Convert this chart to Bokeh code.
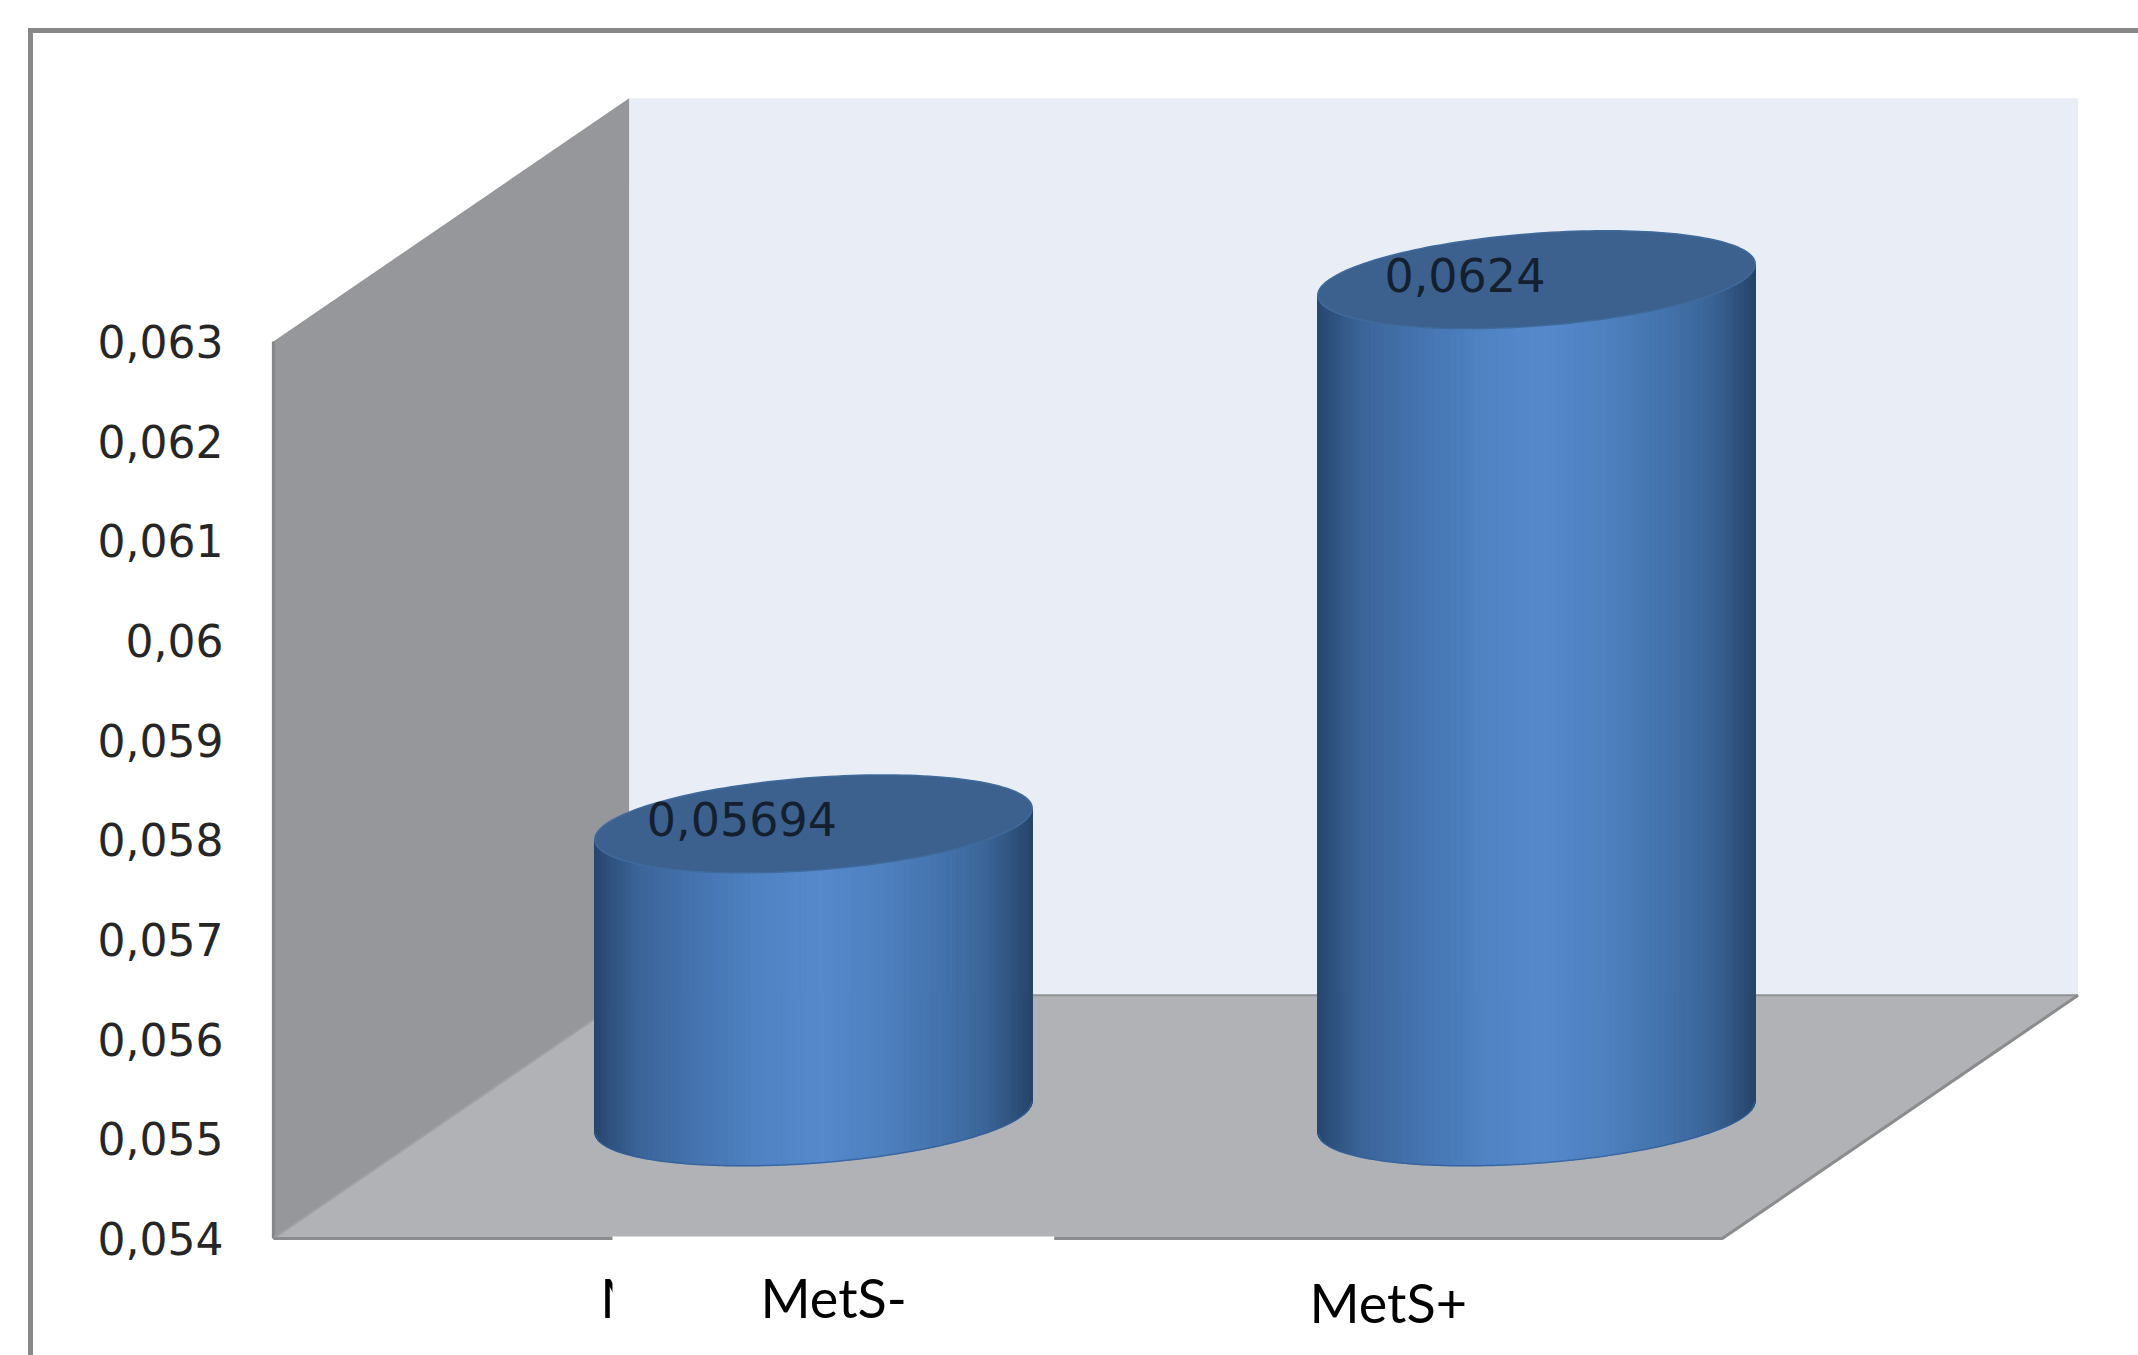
from bokeh.embed import file_html
from bokeh.resources import INLINE
from bokeh.plotting import figure
from bokeh.models import Range1d, FixedTicker, ColumnDataSource
from bokeh.core.properties import value as V
import numpy as np

# ---- data ----
categories = ["MetS-", "MetS+"]
series_values = [0.05694, 0.0624]
value_labels = ["0,05694", "0,0624"]
y_ticks = [0.054, 0.055, 0.056, 0.057, 0.058, 0.059, 0.06, 0.061, 0.062, 0.063]
y_tick_labels = ["0,054", "0,055", "0,056", "0,057", "0,058", "0,059", "0,06", "0,061", "0,062", "0,063"]

# ---- 3D box geometry (in axis units) ----
y_min, y_max = 0.054, 0.063
x_front_left, x_front_right = -0.747, 1.257
depth_x, depth_y = 0.492, 0.00244
half_w = 0.3025
skew, squash = 0.000157, 0.000465

TICK_FONT = "DejaVu Sans"
LABEL_FONT = "Lato"

W, H = 2138, 1355
LEFT = 236

p = figure(width=W, height=H, output_backend="svg", toolbar_location=None,
           x_range=Range1d(-0.798, 1.8326), y_range=Range1d(0.052826, 0.066421),
           min_border_left=LEFT, min_border_right=0, min_border_top=0, min_border_bottom=0,
           background_fill_color=None, border_fill_color=None, outline_line_color=None,
           x_axis_location=None)
p.grid.visible = False
ax = p.yaxis[0]
ax.ticker = FixedTicker(ticks=y_ticks)
ax.major_label_overrides = dict(zip(y_ticks, y_tick_labels))
ax.axis_line_color = None
ax.major_tick_line_color = None
ax.minor_tick_line_color = None
ax.major_label_standoff = 7
ax.major_label_text_font = TICK_FONT
ax.major_label_text_font_size = "44px"
ax.major_label_text_color = "#262626"

# chart frame, running off the top-right and bottom of the picture
p.styles = {
    "background-color": "white",
    "background-image": "linear-gradient(#888888,#888888),linear-gradient(#888888,#888888)",
    "background-size": "5px 100%,100% 5px",
    "background-position": "28px 28px,28px 28px",
    "background-repeat": "no-repeat",
}

# back wall
bx0, bx1 = x_front_left + depth_x, x_front_right + depth_x
by0, by1 = y_min + depth_y, y_max + depth_y
p.patch([bx0, bx1, bx1, bx0], [by0, by0, by1, by1], fill_color="#e9edf5", line_color=None)
# left wall
p.patch([x_front_left, bx0, bx0, x_front_left], [y_min, by0, by1, y_max],
        fill_color="#96979a", line_color=None)
p.line([x_front_left, x_front_left], [y_min, y_max], line_color="#86878a", line_width=3)
# floor
p.patch([x_front_left, bx0, bx1, x_front_right], [y_min, by0, by0, y_min],
        fill_color="#b0b2b6", line_color=None)
p.line([x_front_left, bx0], [y_min, by0], line_color="#9fa0a3", line_width=2)
p.line([bx0, bx1], [by0, by0], line_color="#919295", line_width=2)
p.line([bx1, x_front_right, x_front_left], [by0, y_min, y_min], line_color="#8b8c8e", line_width=3)

# cylinders
stops_t = [0.0, 0.03, 0.10, 0.22, 0.38, 0.52, 0.66, 0.80, 0.90, 0.97, 1.0]
stops_rgb = np.array([
    (0x27, 0x47, 0x6e), (0x2e, 0x50, 0x7c), (0x3b, 0x64, 0x98), (0x44, 0x72, 0xae),
    (0x4f, 0x83, 0xc3), (0x55, 0x89, 0xcc), (0x4e, 0x80, 0xbf), (0x43, 0x72, 0xab),
    (0x3a, 0x64, 0x96), (0x2d, 0x4e, 0x78), (0x25, 0x45, 0x6a)], dtype=float)


def shade(t):
    rgb = [int(round(np.interp(t, stops_t, stops_rgb[:, k]))) for k in range(3)]
    return "#%02x%02x%02x" % tuple(rgb)


mid_depth = depth_y / 2
base_y = y_min + mid_depth
n = 110
for i, val in enumerate(series_values):
    top_y = val + mid_depth
    edges = np.linspace(-1, 1, n + 1)
    # denser sampling near the silhouette
    edges = np.sin(edges * np.pi / 2)
    xs, ys, cols = [], [], []
    for a, b in zip(edges[:-1], edges[1:]):
        uu = np.linspace(a, b, 3)
        low = -squash * np.sqrt(np.clip(1 - uu ** 2, 0, 1)) + skew * uu
        xs.append(list(i + half_w * uu) + list(i + half_w * uu[::-1]))
        ys.append(list(base_y + low) + list(top_y + low[::-1]))
        cols.append(shade((a + b) / 2 * 0.5 + 0.5))
    src = ColumnDataSource(dict(xs=xs, ys=ys, c=cols))
    p.patches("xs", "ys", source=src, fill_color="c", line_color="c", line_width=1)
    # base rim
    uu = np.linspace(-1, 1, 121)
    low = -squash * np.sqrt(1 - uu ** 2) + skew * uu
    p.line(i + half_w * uu, base_y + low, line_color="#2f5f9c", line_width=1.5, line_alpha=0.8)
    # top ellipse
    th = np.linspace(0, 2 * np.pi, 181)
    p.patch(i + half_w * np.cos(th), top_y + skew * np.cos(th) + squash * np.sin(th),
            fill_color="#3c618f", line_color="#3f6a9c", line_width=1.5)

# data labels
p.text([i - 0.099 for i in range(len(categories))], [v + mid_depth for v in series_values],
       text=value_labels, text_font=V(TICK_FONT), text_font_size="46px", text_color="#14202e",
       text_align="center", text_baseline="middle", y_offset=-5)

# white patch laid over the first category label
p.text([-0.295], [y_min], text=["M"], text_font=V(LABEL_FONT), text_font_size="54px",
       text_color="black", text_align="left", text_baseline="alphabetic", y_offset=59)
p.quad(left=[-0.278], right=[0.333], bottom=[y_min - 0.00095], top=[y_min + 0.00002],
       fill_color="white", line_color=None)

# category labels
p.text([0.028, 0.795], [y_min, y_min], text=categories, text_font=V(LABEL_FONT),
       text_font_size="54px", text_color="black", text_align="center",
       text_baseline="alphabetic", y_offset=[59, 64])

open("out.html", "w").write(file_html(p, INLINE))
